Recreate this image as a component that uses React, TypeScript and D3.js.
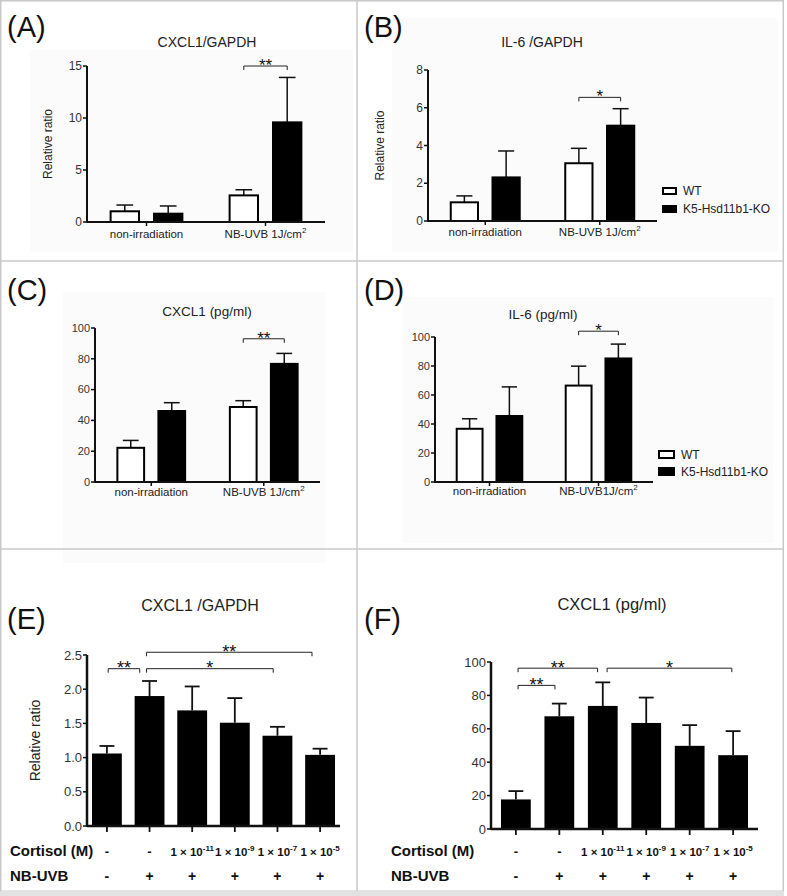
import React from "react";
import * as d3 from "d3";

const FONT = "'Liberation Sans', Arial, Helvetica, sans-serif";

// ---------- data ----------
const seriesNames = ["WT", "K5-Hsd11b1-KO"];
const catsABC = ["non-irradiation", "NB-UVB 1J/cm^2"];
const catsD = ["non-irradiation", "NB-UVB1J/cm^2"];

const aWT = [1.03, 2.56];
const aWTerr = [0.6, 0.54];
const aKO = [0.8, 9.58];
const aKOerr = [0.74, 4.32];
const aTicks = [0, 5, 10, 15];

const bWT = [0.99, 3.06];
const bWTerr = [0.34, 0.79];
const bKO = [2.31, 5.05];
const bKOerr = [1.4, 0.9];
const bTicks = [0, 2, 4, 6, 8];

const cWT = [22.2, 48.7];
const cWTerr = [4.8, 4.1];
const cKO = [46.1, 76.7];
const cKOerr = [5.4, 6.8];
const cTicks = [0, 20, 40, 60, 80, 100];

const dWT = [36.7, 66.5];
const dWTerr = [6.9, 13.4];
const dKO = [45.5, 85.2];
const dKOerr = [20.1, 9.9];
const dTicks = [0, 20, 40, 60, 80, 100];

const eVals = [1.06, 1.9, 1.69, 1.51, 1.32, 1.04];
const eErr = [0.11, 0.22, 0.35, 0.36, 0.13, 0.09];
const eTicks = [0, 0.5, 1.0, 1.5, 2.0, 2.5];

const fVals = [17.7, 67.5, 73.7, 63.5, 49.8, 44.2];
const fErr = [5, 7.6, 14.1, 15.2, 12.4, 14.4];
const fTicks = [0, 20, 40, 60, 80, 100];

const cortisolLabels = ["-", "-", "1 × 10^-11", "1 × 10^-9", "1 × 10^-7", "1 × 10^-5"];
const uvbLabels = ["-", "+", "+", "+", "+", "+"];

// significance annotations
const aSig = [{ cat: 1, level: 15, label: "**" }];
const bSig = [{ cat: 1, level: 6.55, label: "*" }];
const cSig = [{ cat: 1, level: 93, label: "**" }];
const dSig = [{ cat: 1, level: 104, label: "*" }];
const eSig = [
  { a: 0.03, b: 0.77, level: 2.3, label: "**" },
  { a: 0.93, b: 4.81, level: 2.54, label: "**" },
  { a: 0.93, b: 3.9, level: 2.3, label: "*" },
];
const fSig = [
  { a: 0.05, b: 0.9, level: 86, label: "**" },
  { a: 0.05, b: 1.88, level: 96.3, label: "**" },
  { a: 2.1, b: 4.97, level: 96.3, label: "*" },
];

// ---------- helpers ----------
function SupText({ s, supSize }: { s: string; supSize: number }) {
  const parts = s.split("^");
  return (
    <>
      {parts[0]}
      {parts.length > 1 && (
        <tspan dy={-supSize * 0.6} fontSize={supSize}>
          {parts[1]}
        </tspan>
      )}
    </>
  );
}

function YAxis({ y, x, ticks, fmt, fontSize, width }: any) {
  const [r0, r1] = y.range();
  return (
    <g>
      <line x1={x} x2={x} y1={r0 + 1} y2={r1} stroke="#111" strokeWidth={width || 2} />
      {ticks.map((t: number) => (
        <g key={t}>
          <line x1={x - 4} x2={x} y1={y(t)} y2={y(t)} stroke="#111" strokeWidth={1.5} />
          <text x={x - 5} y={y(t)} dy="0.35em" textAnchor="end" fontSize={fontSize} fill="#333">
            {fmt(t)}
          </text>
        </g>
      ))}
    </g>
  );
}

function Bracket({ x1, x2, yy, label, size }: any) {
  return (
    <g>
      <path d={`M${x1},${yy + 4}V${yy}H${x2}V${yy + 4}`} fill="none" stroke="#222" strokeWidth={1} />
      <text x={(x1 + x2) / 2} y={yy + size * 0.3} textAnchor="middle" fontSize={size} fill="#111">
        {label}
      </text>
    </g>
  );
}

function GroupedPanel(p: any) {
  const y = d3.scaleLinear().domain([0, p.max]).range([p.yBottom, p.yTop]);
  const xg = d3.scalePoint<string>().domain(p.cats).range([p.xLeft, p.xRight]).padding(0.5);
  const step = xg.step();
  const xs = d3
    .scaleBand<string>()
    .domain(seriesNames)
    .range([-0.31 * step, 0.31 * step])
    .paddingInner(0.3);
  const bw = xs.bandwidth();
  const rows = p.cats.flatMap((c: string, i: number) => [
    { c, s: seriesNames[0], v: p.wt[i], e: p.wtErr[i] },
    { c, s: seriesNames[1], v: p.ko[i], e: p.koErr[i] },
  ]);
  const cx = (c: string, s: string) => (xg(c) as number) + (xs(s) as number) + bw / 2;
  const cap = bw * 0.55;
  return (
    <g>
      {rows.map((r: any, k: number) => {
        const x = cx(r.c, r.s);
        return (
          <g key={k}>
            <line x1={x} x2={x} y1={y(r.v)} y2={y(r.v + r.e)} stroke="#111" strokeWidth={1.5} />
            <line x1={x - cap / 2} x2={x + cap / 2} y1={y(r.v + r.e)} y2={y(r.v + r.e)} stroke="#111" strokeWidth={1.5} />
            <rect
              x={x - bw / 2 + 1}
              y={y(r.v)}
              width={bw - 2}
              height={y(0) - y(r.v)}
              fill={r.s === seriesNames[0] ? "#fff" : "#000"}
              stroke="#000"
              strokeWidth={2}
            />
          </g>
        );
      })}
      <YAxis y={y} x={p.xLeft} ticks={p.ticks} fmt={d3.format("d")} fontSize={p.tickSize} />
      <line x1={p.xLeft} x2={p.xRight} y1={y(0)} y2={y(0)} stroke="#111" strokeWidth={2} />
      {p.cats.map((c: string) => (
        <g key={c}>
          <line x1={xg(c)} x2={xg(c)} y1={y(0)} y2={y(0) + 4} stroke="#111" strokeWidth={1.5} />
          <text x={xg(c)} y={p.xLabelY} textAnchor="middle" fontSize={11.5} fill="#222">
            <SupText s={c} supSize={8} />
          </text>
        </g>
      ))}
      {p.sig.map((s: any, k: number) => (
        <Bracket
          key={k}
          x1={cx(p.cats[s.cat], seriesNames[0])}
          x2={cx(p.cats[s.cat], seriesNames[1])}
          yy={y(s.level)}
          label={s.label}
          size={17}
        />
      ))}
      <text x={p.titleX} y={p.titleY} textAnchor="middle" fontSize={p.titleSize} fill="#222">
        {p.title}
      </text>
      {p.yLabel && (
        <text
          transform={`translate(${p.yLabelX},${(p.yTop + p.yBottom) / 2}) rotate(-90)`}
          textAnchor="middle"
          fontSize={12}
          fill="#222"
        >
          {p.yLabel}
        </text>
      )}
    </g>
  );
}

function Legend({ x, y, boxW, boxH, gap }: any) {
  return (
    <g>
      {seriesNames.map((s, i) => (
        <g key={s}>
          <rect
            x={x}
            y={y + i * gap}
            width={boxW}
            height={boxH}
            fill={i === 0 ? "#fff" : "#000"}
            stroke="#000"
            strokeWidth={2}
          />
          <text x={x + boxW + 7} y={y + i * gap + boxH / 2} dy="0.36em" fontSize={12} fill="#222">
            {s}
          </text>
        </g>
      ))}
    </g>
  );
}

function DosePanel(p: any) {
  const idx = p.vals.map((_: number, i: number) => i);
  const y = d3.scaleLinear().domain([0, p.max]).range([p.yBottom, p.yTop]);
  const x = d3
    .scaleBand<number>()
    .domain(idx)
    .range([p.xLeft, p.xRight])
    .paddingInner(p.pi)
    .paddingOuter(p.po);
  const bw = x.bandwidth();
  const c0 = (x(0) as number) + bw / 2;
  const cf = (f: number) => c0 + f * x.step();
  const cap = bw * 0.5;
  return (
    <g>
      {idx.map((i: number) => {
        const cx = (x(i) as number) + bw / 2;
        const v = p.vals[i];
        const e = p.errs[i];
        return (
          <g key={i}>
            <line x1={cx} x2={cx} y1={y(v)} y2={y(v + e)} stroke="#111" strokeWidth={1.8} />
            <line x1={cx - cap / 2} x2={cx + cap / 2} y1={y(v + e)} y2={y(v + e)} stroke="#111" strokeWidth={1.8} />
            <rect x={x(i)} y={y(v)} width={bw} height={y(0) - y(v)} fill="#000" />
            <line x1={cx} x2={cx} y1={y(0)} y2={y(0) + 6} stroke="#111" strokeWidth={1.8} />
            <text x={cx} y={p.row1Y} textAnchor="middle" fontSize={cortisolLabels[i].length > 1 ? 11.5 : 13} fontWeight="bold" fill="#111">
              <SupText s={cortisolLabels[i]} supSize={8} />
            </text>
            <text x={cx} y={p.row2Y} textAnchor="middle" fontSize={14} fontWeight="bold" fill="#111">
              {uvbLabels[i]}
            </text>
          </g>
        );
      })}
      <YAxis y={y} x={p.xLeft} ticks={p.ticks} fmt={p.fmt} fontSize={13} width={2.5} />
      <line x1={p.xLeft} x2={p.xRight} y1={y(0)} y2={y(0)} stroke="#111" strokeWidth={2.5} />
      {p.sig.map((s: any, k: number) => (
        <Bracket key={k} x1={cf(s.a)} x2={cf(s.b)} yy={y(s.level)} label={s.label} size={18} />
      ))}
      <text x={p.titleX} y={p.titleY} textAnchor="middle" fontSize={p.titleSize} fill="#222">
        {p.title}
      </text>
      <text x={p.rowLabelX} y={p.row1Y} fontSize={15} fontWeight="bold" fill="#111">
        Cortisol (M)
      </text>
      <text x={p.rowLabelX} y={p.row2Y} fontSize={15} fontWeight="bold" fill="#111">
        NB-UVB
      </text>
      {p.yLabel && (
        <text
          transform={`translate(${p.yLabelX},${(p.yTop + p.yBottom) / 2}) rotate(-90)`}
          textAnchor="middle"
          fontSize={14}
          fill="#222"
        >
          {p.yLabel}
        </text>
      )}
    </g>
  );
}

export default function App() {
  const W = 787;
  const H = 896;
  const grid = "#c8c8c8";
  const bg = "#fbfbfb";
  return (
    <svg
      width={W}
      height={H}
      style={{ position: "absolute", left: 0, top: 0, background: "#fff" }}
      fontFamily={FONT}
    >
      <rect x={0} y={0} width={W} height={H} fill="#fff" />
      {/* faint panel backgrounds */}
      <rect x={30} y={50} width={323} height={202} fill={bg} />
      <rect x={392} y={18} width={386} height={234} fill={bg} />
      <rect x={63} y={292} width={262} height={271} fill={bg} />
      <rect x={403} y={297} width={370} height={246} fill={bg} />

      {/* frame */}
      <rect x={0.75} y={0.75} width={782.5} height={890.5} fill="none" stroke={grid} strokeWidth={1.5} />
      <rect x={0} y={891} width={784} height={5} fill="#e2e2e2" />
      <line x1={357} x2={357} y1={0} y2={891} stroke={grid} strokeWidth={1.5} />
      <line x1={0} x2={783} y1={261} y2={261} stroke={grid} strokeWidth={1.5} />
      <line x1={0} x2={783} y1={549} y2={549} stroke={grid} strokeWidth={1.5} />

      {/* panel letters */}
      <text x={7} y={37} fontSize={29} fill="#111">(A)</text>
      <text x={364} y={37} fontSize={29} fill="#111">(B)</text>
      <text x={7} y={300} fontSize={29} fill="#111">(C)</text>
      <text x={364} y={300} fontSize={29} fill="#111">(D)</text>
      <text x={7} y={629} fontSize={29} fill="#111">(E)</text>
      <text x={364} y={629} fontSize={29} fill="#111">(F)</text>

      <GroupedPanel
        xLeft={87} xRight={325} yTop={66} yBottom={222} max={15} ticks={aTicks} tickSize={12}
        cats={catsABC} wt={aWT} wtErr={aWTerr} ko={aKO} koErr={aKOerr} sig={aSig}
        xLabelY={238} title="CXCL1/GAPDH" titleX={207} titleY={47} titleSize={14}
        yLabel="Relative ratio" yLabelX={52}
      />
      <GroupedPanel
        xLeft={428} xRight={657} yTop={70} yBottom={221} max={8} ticks={bTicks} tickSize={12}
        cats={catsABC} wt={bWT} wtErr={bWTerr} ko={bKO} koErr={bKOerr} sig={bSig}
        xLabelY={236} title="IL-6 /GAPDH" titleX={542} titleY={47} titleSize={14}
        yLabel="Relative ratio" yLabelX={384}
      />
      <Legend x={663} y={188} boxW={13} boxH={6} gap={18} />
      <GroupedPanel
        xLeft={95} xRight={320} yTop={328} yBottom={482} max={100} ticks={cTicks} tickSize={11}
        cats={catsABC} wt={cWT} wtErr={cWTerr} ko={cKO} koErr={cKOerr} sig={cSig}
        xLabelY={496} title="CXCL1 (pg/ml)" titleX={207} titleY={316} titleSize={13.5}
      />
      <GroupedPanel
        xLeft={435} xRight={653} yTop={337} yBottom={482} max={100} ticks={dTicks} tickSize={11}
        cats={catsD} wt={dWT} wtErr={dWTerr} ko={dKO} koErr={dKOerr} sig={dSig}
        xLabelY={495} title="IL-6 (pg/ml)" titleX={543} titleY={319} titleSize={13.5}
      />
      <Legend x={659} y={451} boxW={15} boxH={7} gap={17} />

      <DosePanel
        xLeft={87} xRight={340} yTop={655} yBottom={826} max={2.5} ticks={eTicks} fmt={d3.format(".1f")}
        vals={eVals} errs={eErr} pi={0.3} po={0.117} sig={eSig}
        title="CXCL1 /GAPDH" titleX={200} titleY={611} titleSize={16}
        rowLabelX={10} row1Y={856} row2Y={881} yLabel="Relative ratio" yLabelX={40}
      />
      <DosePanel
        xLeft={491} xRight={758} yTop={662} yBottom={829} max={100} ticks={fTicks} fmt={d3.format("d")}
        vals={fVals} errs={fErr} pi={0.315} po={0.23} sig={fSig}
        title="CXCL1 (pg/ml)" titleX={612} titleY={610} titleSize={16.5}
        rowLabelX={391} row1Y={856} row2Y={881}
      />
    </svg>
  );
}
